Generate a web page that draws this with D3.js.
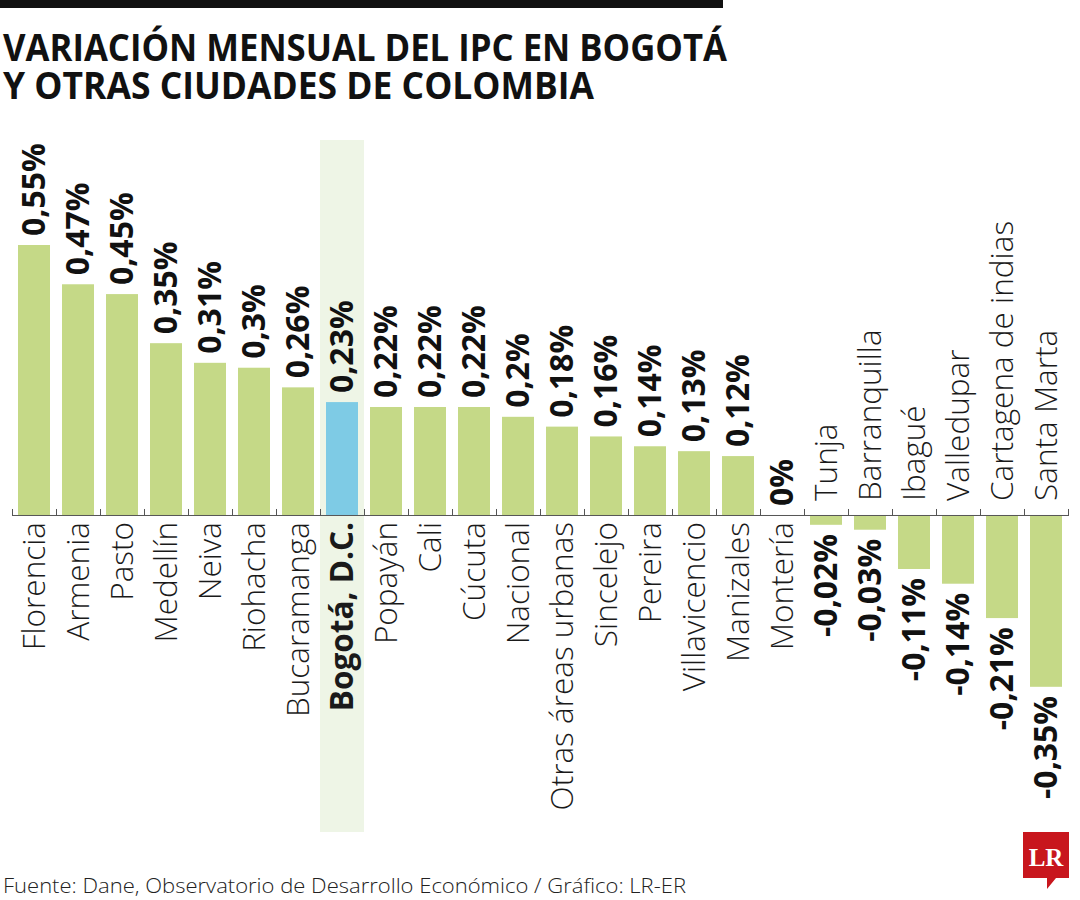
<!DOCTYPE html>
<html>
<head>
<meta charset="utf-8">
<script src="https://cdn.jsdelivr.net/npm/d3@7"></script>
<style>
  html, body { margin: 0; padding: 0; background: #fff; }
  svg { display: block; }
</style>
</head>
<body>
<div id="chart"></div>
<script>
// ---- Data ----
const categories = ["Florencia", "Armenia", "Pasto", "Medellín", "Neiva", "Riohacha", "Bucaramanga",
  "Bogotá, D.C.", "Popayán", "Cali", "Cúcuta", "Nacional", "Otras áreas urbanas", "Sincelejo",
  "Pereira", "Villavicencio", "Manizales", "Montería", "Tunja", "Barranquilla", "Ibagué",
  "Valledupar", "Cartagena de indias", "Santa Marta"];
const values = [0.55, 0.47, 0.45, 0.35, 0.31, 0.3, 0.26, 0.23, 0.22, 0.22, 0.22, 0.2, 0.18, 0.16,
  0.14, 0.13, 0.12, 0, -0.02, -0.03, -0.11, -0.14, -0.21, -0.35];
const highlight = "Bogotá, D.C.";
const titleLines = ["VARIACIÓN MENSUAL DEL IPC EN BOGOTÁ", "Y OTRAS CIUDADES DE COLOMBIA"];
const source = "Fuente: Dane, Observatorio de Desarrollo Económico / Gráfico: LR-ER";

const data = categories.map((c, i) => ({ cat: c, value: values[i] }));
const fmt = v => String(v).replace(".", ",") + "%";

// ---- Layout ----
const W = 1080, H = 900;
const svg = d3.select("#chart").append("svg").attr("width", W).attr("height", H);

const x = d3.scaleBand().domain(categories).range([12, 1068]).paddingInner(0).paddingOuter(0);
const y = d3.scaleLinear().domain([-0.35, 0.55]).range([686.8, 245]);
const y0 = y(0);
const barW = x.bandwidth() * 0.727;

const GREEN = "#c5d987", BLUE = "#7ecbe5", HL = "#eef5e6";

// top black rule
svg.append("rect").attr("x", 0).attr("y", 0).attr("width", 723).attr("height", 8).attr("fill", "#111");

// title
const title = svg.append("text")
  .attr("font-family", "'Open Sans', sans-serif")
  .attr("font-weight", 700)
  .attr("font-size", 37)
  .attr("fill", "#111");
title.selectAll("tspan").data(titleLines).enter().append("tspan")
  .attr("x", 3)
  .attr("y", (d, i) => 61 + i * 38)
  .attr("textLength", (d, i) => i === 0 ? 724 : 591)
  .attr("lengthAdjust", "spacingAndGlyphs")
  .text(d => d);

// highlight band
svg.append("rect")
  .attr("x", x(highlight)).attr("width", x.bandwidth())
  .attr("y", 140).attr("height", 692)
  .attr("fill", HL);

// bars
svg.selectAll("rect.bar").data(data).enter().append("rect")
  .attr("class", "bar")
  .attr("x", d => x(d.cat) + (x.bandwidth() - barW) / 2)
  .attr("width", barW)
  .attr("y", d => Math.min(y(d.value), y0))
  .attr("height", d => Math.abs(y(d.value) - y0))
  .attr("fill", d => d.cat === highlight ? BLUE : GREEN);

// baseline + boundary ticks
svg.append("line").attr("x1", 12).attr("x2", 1068).attr("y1", y0 + 0.5).attr("y2", y0 + 0.5)
  .attr("stroke", "#555").attr("stroke-width", 1);
const bounds = categories.map(c => x(c)).concat([x.range()[1]]);
svg.selectAll("line.tick").data(bounds).enter().append("line")
  .attr("class", "tick")
  .attr("x1", d => Math.round(d) + 0.5).attr("x2", d => Math.round(d) + 0.5)
  .attr("y1", y0 - 6).attr("y2", y0 + 1)
  .attr("stroke", "#555").attr("stroke-width", 1);

// value labels
svg.selectAll("text.val").data(data).enter().append("text")
  .attr("class", "val")
  .attr("transform", d => {
    const cx = x(d.cat) + x.bandwidth() / 2;
    const yy = d.value >= 0 ? y(d.value) - 9 : y(d.value) + 9;
    return `translate(${cx},${yy}) rotate(-90)`;
  })
  .attr("dy", "0.35em")
  .attr("text-anchor", d => d.value >= 0 ? "start" : "end")
  .attr("font-family", "'Open Sans', sans-serif")
  .attr("font-weight", 700)
  .attr("font-size", 32)
  .attr("fill", "#111")
  .text(d => fmt(d.value));

// category labels
svg.selectAll("text.cat").data(data).enter().append("text")
  .attr("class", "cat")
  .attr("transform", d => {
    const cx = x(d.cat) + x.bandwidth() / 2;
    const yy = d.value >= 0 ? y0 + 7 : y0 - 14;
    return `translate(${cx},${yy}) rotate(-90)`;
  })
  .attr("dy", "0.35em")
  .attr("text-anchor", d => d.value >= 0 ? "end" : "start")
  .attr("font-family", "'Open Sans', sans-serif")
  .attr("font-weight", d => d.cat === highlight ? 700 : 300)
  .attr("font-size", 31.5)
  .attr("fill", "#1a1a1a")
  .text(d => d.cat);

// source
svg.append("text")
  .attr("x", 3).attr("y", 893)
  .attr("font-family", "'Open Sans', sans-serif")
  .attr("font-weight", 300)
  .attr("font-size", 21)
  .attr("textLength", 683)
  .attr("lengthAdjust", "spacingAndGlyphs")
  .attr("fill", "#222")
  .text(source);

// LR logo
const logo = svg.append("g");
logo.append("path")
  .attr("d", "M1023,832 H1069 V878 H1056 L1047,889 L1047,878 H1023 Z")
  .attr("fill", "#c8161d");
logo.append("text")
  .attr("x", 1046).attr("y", 866)
  .attr("text-anchor", "middle")
  .attr("font-family", "'Liberation Serif', serif")
  .attr("font-weight", 700)
  .attr("font-size", 25)
  .attr("fill", "#fff")
  .text("LR");
</script>
</body>
</html>
